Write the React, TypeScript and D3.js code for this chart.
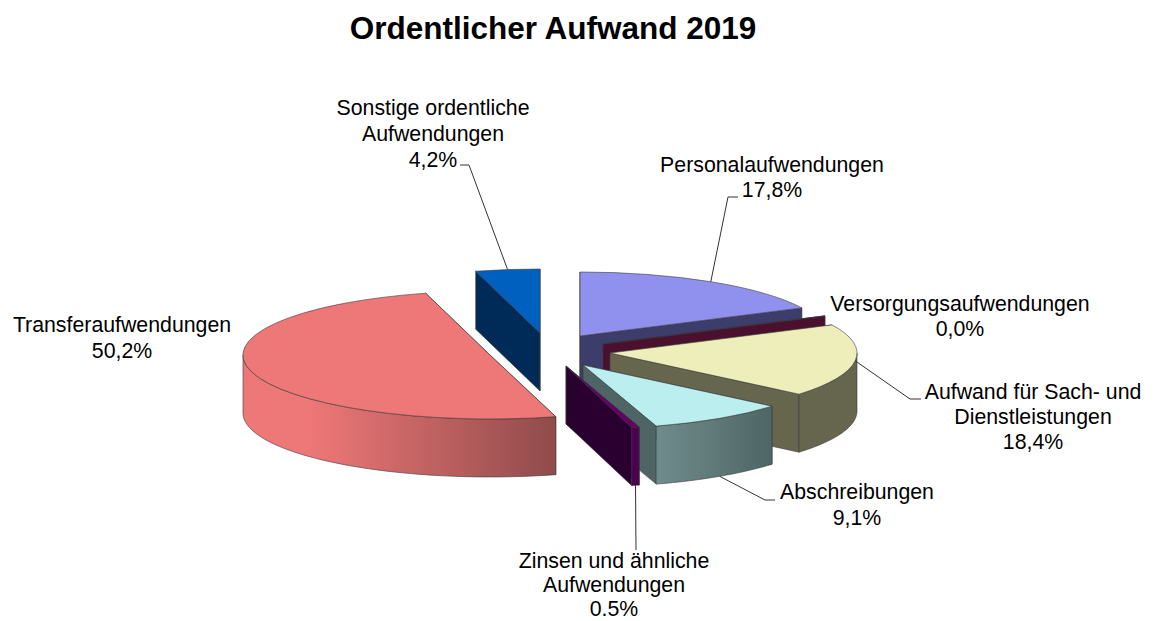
import React from "react";
import * as d3 from "d3";

const categories = [
  "Personalaufwendungen",
  "Versorgungsaufwendungen",
  "Aufwand für Sach- und Dienstleistungen",
  "Abschreibungen",
  "Zinsen und ähnliche Aufwendungen",
  "Transferaufwendungen",
  "Sonstige ordentliche Aufwendungen",
];
const values = [17.8, 0.0, 18.4, 9.1, 0.5, 50.2, 4.2];
const valueLabels = ["17,8%", "0,0%", "18,4%", "9,1%", "0.5%", "50,2%", "4,2%"];
const labelLines = [
  ["Personalaufwendungen"],
  ["Versorgungsaufwendungen"],
  ["Aufwand für Sach- und", "Dienstleistungen"],
  ["Abschreibungen"],
  ["Zinsen und ähnliche", "Aufwendungen"],
  ["Transferaufwendungen"],
  ["Sonstige ordentliche", "Aufwendungen"],
];

// layout, same order as categories
const centers: [number, number][] = [
  [580, 336], [603, 344], [610, 353], [583, 365], [566, 366], [490, 355], [540, 333],
];
const labelPos: [number, number, number][] = [
  [772, 172, 25], [960, 311, 25], [1033, 399, 25], [857, 499, 26], [614, 568, 24], [122, 332, 26], [433, 115, 26],
];
const topColors = ["#9090ee", "#66003c", "#eeeebb", "#bbeeee", "#660066", "#ee7777", "#0060c0"];
const faceColors = ["#3d3d6b", "#4a102e", "#66664f", "#4f6565", "#2a0030", "#904b4b", "#002a58"];
const wallFrom = ["#3d3d6b", "#4a102e", "#66664f", "#708c8c", "#4d0050", "#ee7777", "#002a58"];
const wallTo = ["#3d3d6b", "#4a102e", "#66664f", "#4f6565", "#4d0050", "#904b4b", "#002a58"];
const drawOrder = [0, 6, 5, 1, 2, 3, 4];

const rx = 247;
const ry = 64;
const depth = 58;
const edge = "#3a3a3a";

const px = (c: [number, number], a: number) => c[0] + rx * Math.sin(a);
const py = (c: [number, number], a: number) => c[1] - ry * Math.cos(a);

export default function App() {
  const arcs = d3.pie<number>().sort(null).value((d) => d)(values);
  const arc = d3.arc<any>().innerRadius(0).outerRadius(rx);
  const line = d3.line();

  // leader elbows: [from value-label side] -> anchor on the slice
  const elbows: Record<number, [number, number][]> = {
    0: [[738, 197], [728, 197]],
    2: [[921, 399], [910, 399]],
    3: [[775, 500], [765, 500]],
    4: [[636, 550]],
    6: [[460, 165], [469, 165]],
  };

  const wallPath = (i: number) => {
    const a = arcs[i];
    const lo = Math.max(a.startAngle, Math.PI / 2);
    const hi = Math.min(a.endAngle, (3 * Math.PI) / 2);
    if (hi <= lo) return null;
    const c = centers[i];
    const steps = d3.range(0, 41).map((k) => lo + ((hi - lo) * k) / 40);
    const top = steps.map((t) => [px(c, t), py(c, t)] as [number, number]);
    const bottom = steps.map((t) => [px(c, t), py(c, t) + depth] as [number, number]).reverse();
    return { d: line([...top, ...bottom]) + "Z", x1: px(c, lo), x2: px(c, hi) };
  };

  const facePath = (i: number, angle: number) => {
    const c = centers[i];
    const x = px(c, angle);
    const y = py(c, angle);
    return line([c, [x, y], [x, y + depth], [c[0], c[1] + depth]]) + "Z";
  };

  return (
    <svg
      width={1156}
      height={621}
      style={{ position: "absolute", left: 0, top: 0, display: "block", background: "#fff" }}
      fontFamily="'Liberation Sans', Arial, sans-serif"
    >
      <defs>
        {values.map((_, i) => {
          const w = wallPath(i);
          if (!w) return null;
          const stops =
            i === 5
              ? [[0, wallFrom[i]], [0.22, wallFrom[i]], [1, wallTo[i]]]
              : [[0, wallFrom[i]], [1, wallTo[i]]];
          // the wall runs right to left as the angle grows
          return (
            <linearGradient key={i} id={`wall${i}`} gradientUnits="userSpaceOnUse"
              x1={Math.min(w.x1, w.x2)} x2={Math.max(w.x1, w.x2)} y1={0} y2={0}>
              {stops.map(([o, col], k) => (
                <stop key={k} offset={o as number} stopColor={col as string} />
              ))}
            </linearGradient>
          );
        })}
      </defs>

      <text x={553} y={39} textAnchor="middle" fontSize={31.5} fontWeight="bold" fill="#000">
        Ordentlicher Aufwand 2019
      </text>

      {drawOrder.map((i) => {
        const a = arcs[i];
        const c = centers[i];
        const w = wallPath(i);
        return (
          <g key={categories[i]}>
            <path d={facePath(i, a.startAngle)} fill={faceColors[i]} stroke={edge} strokeWidth={0.6} />
            <path d={facePath(i, a.endAngle)} fill={faceColors[i]} stroke={edge} strokeWidth={0.6} />
            {w && <path d={w.d} fill={`url(#wall${i})`} stroke={edge} strokeWidth={0.6} />}
            <path
              d={arc(a) as string}
              transform={`translate(${c[0]},${c[1]}) scale(1,${ry / rx})`}
              fill={topColors[i]}
              stroke={edge}
              strokeWidth={0.6}
              vectorEffect="non-scaling-stroke"
            />
          </g>
        );
      })}

      {Object.keys(elbows).map((k) => {
        const i = +k;
        const a = arcs[i];
        const mid = (a.startAngle + a.endAngle) / 2;
        const wallSide = Math.cos(mid) < 0 && i !== 2;
        const anchor: [number, number] = [px(centers[i], mid), py(centers[i], mid) + (wallSide ? depth : 0)];
        return (
          <path key={k} d={line([...elbows[i], anchor]) as string} fill="none" stroke="#333" strokeWidth={1} />
        );
      })}

      {categories.map((name, i) => {
        const [x, y, gap] = labelPos[i];
        return (
          <text key={name} textAnchor="middle" fontSize={21.3} fill="#000">
            {[...labelLines[i], valueLabels[i]].map((t, k) => (
              <tspan key={k} x={x} y={y + k * gap}>{t}</tspan>
            ))}
          </text>
        );
      })}
    </svg>
  );
}
